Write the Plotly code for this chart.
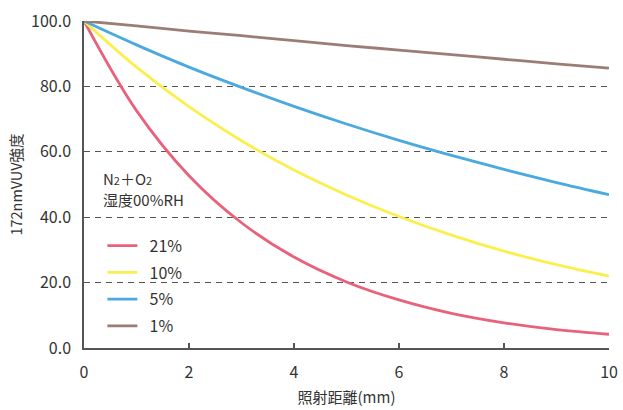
import plotly.graph_objects as go

# Irradiation distance (mm) and relative 172 nm VUV intensity for each O2 concentration
distance_mm = [0, 1, 2, 3, 4, 5, 6, 7, 8, 9, 10]
o2_21 = [100, 72.6, 52.7, 38.3, 27.8, 20.2, 14.7, 10.6, 7.7, 5.6, 4.2]
o2_10 = [100, 85.9, 73.8, 63.4, 54.4, 46.8, 40.2, 34.5, 29.6, 25.5, 22.0]
o2_5 = [100, 92.7, 85.9, 79.7, 73.9, 68.5, 63.5, 58.9, 54.6, 50.6, 46.9]
o2_1 = [100, 98.5, 96.9, 95.5, 94.0, 92.5, 91.1, 89.7, 88.3, 86.9, 85.6]

series_names = ["21%", "10%", "5%", "1%"]
series_values = [o2_21, o2_10, o2_5, o2_1]
series_colors = ["#E9627B", "#FBEF4E", "#4AA9DF", "#9C7D76"]

x_ticks = [0, 2, 4, 6, 8, 10]
y_ticks = [0, 20, 40, 60, 80, 100]
y_tick_text = [f"{v:.1f}" for v in y_ticks]

FONT = "Noto Sans CJK JP, Noto Sans, sans-serif"
AXIS_COLOR = "#555555"
TEXT_COLOR = "#333333"

fig = go.Figure()
for i, (name, vals, col) in enumerate(zip(series_names, series_values, series_colors)):
    fig.add_trace(go.Scatter(
        x=distance_mm, y=vals, name="  " + name, mode="lines",
        line=dict(color=col, width=2.8, shape="spline", smoothing=1.0),
        legendgroup=f"g{i}",
    ))

# gas composition / humidity note
fig.add_annotation(
    text="N<span style='font-size:11px'>2</span>＋O<span style='font-size:11px'>2</span>",
    xref="paper", yref="paper", x=0.033, y=0.519,
    xanchor="left", yanchor="middle", align="left", showarrow=False,
    font=dict(family=FONT, size=15, color=TEXT_COLOR),
)
fig.add_annotation(
    text="湿度00%RH",
    xref="paper", yref="paper", x=0.033, y=0.455,
    xanchor="left", yanchor="middle", align="left", showarrow=False,
    font=dict(family=FONT, size=15, color=TEXT_COLOR),
)

fig.update_layout(
    width=623, height=410,
    margin=dict(l=84, r=14, t=21, b=62),
    paper_bgcolor="white", plot_bgcolor="white",
    font=dict(family=FONT, size=16, color=TEXT_COLOR),
    showlegend=True,
    legend=dict(
        x=0.035, y=0.365, xanchor="left", yanchor="top",
        bgcolor="rgba(0,0,0,0)", tracegroupgap=3,
        font=dict(family=FONT, size=16, color=TEXT_COLOR),
    ),
    xaxis=dict(
        range=[0, 10], tickvals=x_ticks, ticks="inside", ticklen=5,
        tickcolor=AXIS_COLOR, tickwidth=1.5,
        showline=True, linecolor=AXIS_COLOR, linewidth=1.5,
        showgrid=False, zeroline=False, automargin=False,
        ticklabelstandoff=9,
        title=dict(text="照射距離(mm)", font=dict(family=FONT, size=15, color=TEXT_COLOR), standoff=11),
    ),
    yaxis=dict(
        range=[0, 100], tickvals=y_ticks, ticktext=y_tick_text, ticks="",
        showline=True, linecolor=AXIS_COLOR, linewidth=1.5,
        showgrid=True, gridcolor="#555555", gridwidth=1.4, griddash="6px,5px",
        zeroline=False, automargin=False, ticklabelstandoff=8,
        title=dict(text="172nmVUV強度", font=dict(family=FONT, size=14.5, color=TEXT_COLOR), standoff=5),
    ),
)

fig.write_html("out.html")
